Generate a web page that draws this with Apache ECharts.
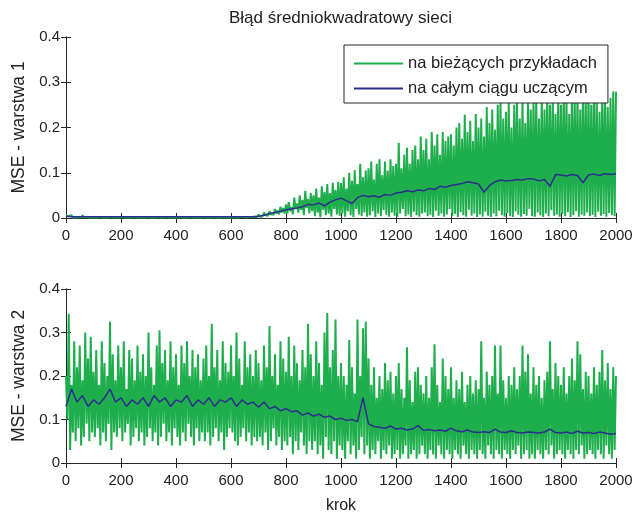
<!DOCTYPE html>
<html><head><meta charset="utf-8">
<script src="https://cdn.jsdelivr.net/npm/echarts@6/dist/echarts.min.js"></script>
<style>html,body{margin:0;padding:0;background:#fff}#c{width:637px;height:515px}</style>
</head><body><div id="c"></div>
<script>
const titleText = 'Błąd średniokwadratowy sieci';
const seriesNames = ['na bieżących przykładach', 'na całym ciągu uczącym'];
const yNames = ['MSE - warstwa 1', 'MSE - warstwa 2'];
const xName = 'krok';
const xTicks = [0, 200, 400, 600, 800, 1000, 1200, 1400, 1600, 1800, 2000];
const yTicks = [0, 0.1, 0.2, 0.3, 0.4];

// layer 1, current examples: local peaks (step 10*i) and troughs (step 10*i+5)
const topGreenHigh = [
0.005,0.004,0.006,0.003,0.005,0.004,0.006,0.003,0.004,0.003,
0.003,0.004,0.003,0.003,0.005,0.003,0.003,0.004,0.003,0.003,
0.003,0.003,0.004,0.003,0.003,0.003,0.004,0.003,0.003,0.003,
0.003,0.004,0.003,0.003,0.003,0.003,0.003,0.004,0.003,0.003,
0.003,0.003,0.003,0.004,0.003,0.003,0.003,0.003,0.004,0.003,
0.003,0.003,0.004,0.003,0.003,0.003,0.003,0.003,0.003,0.004,
0.003,0.004,0.003,0.003,0.004,0.003,0.005,0.004,0.006,0.005,
0.008,0.006,0.012,0.010,0.015,0.011,0.020,0.016,0.025,0.022,
0.030,0.035,0.024,0.045,0.032,0.050,0.040,0.060,0.042,0.055,
0.050,0.065,0.045,0.070,0.058,0.075,0.055,0.078,0.062,0.080,
0.077,0.090,0.065,0.100,0.082,0.106,0.075,0.120,0.090,0.105,
0.110,0.125,0.085,0.120,0.130,0.095,0.125,0.105,0.130,0.115,
0.120,0.166,0.110,0.140,0.155,0.120,0.150,0.160,0.130,0.180,
0.150,0.175,0.130,0.190,0.160,0.185,0.140,0.190,0.170,0.180,
0.185,0.160,0.200,0.210,0.175,0.228,0.190,0.215,0.170,0.230,
0.200,0.220,0.180,0.245,0.210,0.240,0.195,0.250,0.254,0.220,
0.235,0.255,0.200,0.250,0.263,0.220,0.260,0.210,0.265,0.240,
0.262,0.270,0.220,0.275,0.240,0.280,0.250,0.272,0.230,0.278,
0.250,0.280,0.265,0.230,0.282,0.255,0.278,0.240,0.285,0.260,
0.280,0.250,0.285,0.260,0.235,0.280,0.270,0.245,0.265,0.280];
const topGreenLow = [
0.001,0.002,0.001,0.001,0.002,0.001,0.001,0.002,0.001,0.001,
0.001,0.001,0.002,0.001,0.001,0.001,0.002,0.001,0.001,0.001,
0.002,0.001,0.001,0.001,0.002,0.001,0.001,0.001,0.001,0.002,
0.001,0.001,0.001,0.002,0.001,0.001,0.002,0.001,0.001,0.001,
0.001,0.002,0.001,0.001,0.001,0.002,0.001,0.001,0.001,0.001,
0.002,0.001,0.001,0.002,0.001,0.001,0.001,0.002,0.001,0.001,
0.001,0.002,0.001,0.002,0.002,0.001,0.002,0.002,0.003,0.002,
0.003,0.004,0.006,0.005,0.008,0.007,0.010,0.008,0.012,0.010,
0.010,0.015,0.008,0.020,0.012,0.018,0.006,0.022,0.010,0.015,
0.004,0.012,0.002,0.018,0.006,0.010,0.003,0.020,0.008,0.005,
0.010,0.003,0.015,0.006,0.002,0.020,0.008,0.004,0.012,0.003,
0.006,0.015,0.002,0.010,0.004,0.018,0.007,0.003,0.012,0.005,
0.003,0.010,0.020,0.004,0.008,0.002,0.014,0.006,0.003,0.010,
0.012,0.004,0.007,0.002,0.016,0.005,0.010,0.003,0.008,0.020,
0.004,0.009,0.002,0.013,0.006,0.003,0.018,0.005,0.010,0.002,
0.008,0.003,0.014,0.005,0.002,0.010,0.004,0.016,0.006,0.003,
0.011,0.004,0.002,0.015,0.007,0.003,0.009,0.005,0.020,0.004,
0.003,0.012,0.006,0.002,0.010,0.004,0.017,0.005,0.008,0.003,
0.009,0.004,0.013,0.002,0.006,0.015,0.003,0.008,0.005,0.012,
0.004,0.007,0.002,0.014,0.005,0.009,0.003,0.011,0.006,0.004];
const topGreenEnd = 0.279;

// layer 1, whole training set (every 20 steps)
const topBlue = [
0.004,0.003,0.003,0.003,0.003,0.003,0.003,0.003,0.003,0.003,
0.003,0.003,0.003,0.003,0.003,0.003,0.003,0.003,0.003,0.003,
0.003,0.003,0.003,0.003,0.003,0.003,0.003,0.003,0.003,0.003,
0.003,0.003,0.003,0.003,0.003,0.004,0.006,0.010,0.012,0.015,
0.018,0.020,0.022,0.025,0.030,0.029,0.033,0.027,0.035,0.040,
0.044,0.038,0.032,0.045,0.050,0.047,0.049,0.046,0.052,0.050,
0.055,0.057,0.060,0.058,0.062,0.060,0.065,0.063,0.070,0.068,
0.072,0.074,0.076,0.080,0.078,0.075,0.057,0.072,0.080,0.084,
0.082,0.083,0.085,0.084,0.087,0.086,0.082,0.085,0.070,0.096,
0.095,0.093,0.096,0.094,0.078,0.095,0.097,0.094,0.098,0.096,
0.098];

// layer 2, current examples
const botGreenHigh = [
0.200,0.343,0.180,0.280,0.220,0.270,0.190,0.300,0.240,0.290,
0.210,0.260,0.180,0.280,0.230,0.200,0.325,0.250,0.190,0.270,
0.220,0.280,0.170,0.260,0.240,0.190,0.270,0.210,0.250,0.200,
0.300,0.220,0.180,0.270,0.305,0.230,0.260,0.190,0.280,0.220,
0.250,0.180,0.270,0.230,0.280,0.200,0.260,0.220,0.250,0.190,
0.240,0.270,0.200,0.320,0.220,0.260,0.190,0.280,0.230,0.210,
0.270,0.200,0.300,0.240,0.180,0.280,0.220,0.250,0.200,0.260,
0.230,0.190,0.270,0.220,0.315,0.200,0.250,0.180,0.280,0.240,
0.210,0.290,0.200,0.270,0.230,0.190,0.260,0.220,0.320,0.250,
0.200,0.280,0.230,0.180,0.300,0.345,0.220,0.260,0.330,0.200,
0.230,0.200,0.180,0.283,0.220,0.160,0.330,0.200,0.310,0.325,
0.240,0.180,0.220,0.150,0.200,0.170,0.230,0.190,0.210,0.160,
0.200,0.230,0.170,0.150,0.266,0.190,0.140,0.210,0.220,0.180,
0.160,0.200,0.150,0.220,0.273,0.180,0.140,0.240,0.200,0.170,
0.220,0.150,0.190,0.170,0.210,0.140,0.180,0.200,0.160,0.190,
0.170,0.280,0.150,0.210,0.180,0.200,0.270,0.160,0.270,0.190,
0.150,0.200,0.180,0.220,0.170,0.200,0.270,0.210,0.250,0.160,
0.220,0.180,0.200,0.150,0.190,0.210,0.280,0.170,0.230,0.200,
0.180,0.220,0.160,0.200,0.240,0.190,0.280,0.250,0.170,0.210,
0.200,0.160,0.220,0.180,0.210,0.260,0.190,0.230,0.170,0.220];
const botGreenLow = [
0.100,0.030,0.070,0.050,0.080,0.040,0.060,0.090,0.050,0.070,
0.060,0.080,0.040,0.070,0.050,0.090,0.030,0.070,0.060,0.080,
0.050,0.070,0.090,0.040,0.060,0.080,0.050,0.070,0.040,0.060,
0.080,0.050,0.070,0.040,0.060,0.090,0.050,0.070,0.040,0.080,
0.060,0.040,0.070,0.050,0.090,0.060,0.040,0.080,0.050,0.070,
0.050,0.070,0.040,0.060,0.080,0.050,0.070,0.030,0.060,0.080,
0.070,0.050,0.040,0.060,0.080,0.050,0.070,0.040,0.060,0.050,
0.060,0.040,0.070,0.030,0.050,0.080,0.040,0.060,0.030,0.050,
0.040,0.060,0.020,0.050,0.030,0.070,0.040,0.020,0.050,0.030,
0.050,0.020,0.040,0.010,0.060,0.030,0.020,0.050,0.010,0.040,
0.030,0.010,0.050,0.020,0.040,0.010,0.030,0.060,0.020,0.040,
0.010,0.030,0.020,0.050,0.010,0.030,0.020,0.040,0.010,0.020,
0.030,0.010,0.020,0.040,0.010,0.020,0.030,0.010,0.020,0.040,
0.020,0.010,0.030,0.020,0.010,0.040,0.020,0.010,0.030,0.020,
0.010,0.030,0.020,0.010,0.040,0.020,0.010,0.030,0.020,0.010,
0.030,0.020,0.010,0.040,0.020,0.010,0.030,0.020,0.010,0.030,
0.020,0.010,0.030,0.020,0.040,0.010,0.020,0.030,0.010,0.020,
0.010,0.030,0.020,0.010,0.030,0.020,0.040,0.010,0.020,0.030,
0.020,0.010,0.030,0.020,0.010,0.030,0.020,0.040,0.010,0.020,
0.030,0.020,0.010,0.030,0.020,0.010,0.040,0.020,0.010,0.030];
const botGreenEnd = 0.200;

// layer 2, whole training set (every 20 steps)
const botBlue = [
0.130,0.170,0.140,0.155,0.130,0.145,0.135,0.150,0.170,0.140,
0.150,0.130,0.145,0.135,0.150,0.130,0.155,0.140,0.150,0.130,
0.145,0.140,0.155,0.130,0.145,0.135,0.150,0.130,0.145,0.140,
0.150,0.130,0.145,0.135,0.140,0.128,0.140,0.125,0.130,0.120,
0.125,0.118,0.120,0.110,0.115,0.108,0.112,0.105,0.108,0.100,
0.103,0.098,0.100,0.095,0.150,0.090,0.084,0.082,0.080,0.085,
0.078,0.080,0.076,0.078,0.086,0.075,0.077,0.074,0.076,0.073,
0.080,0.074,0.072,0.076,0.071,0.070,0.072,0.070,0.078,0.071,
0.070,0.074,0.070,0.069,0.071,0.070,0.069,0.071,0.078,0.070,
0.069,0.071,0.068,0.073,0.069,0.070,0.068,0.071,0.069,0.066,
0.068];

const GREEN = '#1fae4c', BLUE = '#2b2e8e', AX = '#262626';
const FONT = "'Liberation Sans', Arial, sans-serif";

function zig(high, low, endVal) {
  const d = [];
  for (let i = 0; i < high.length; i++) { d.push([i * 10, high[i]]); d.push([i * 10 + 5, low[i]]); }
  d.push([2000, endVal]);
  return d;
}
function every20(arr) { return arr.map((v, i) => [i * 20, v]); }

const grids = [
  { left: 66, right: 21, top: 37, height: 181 },
  { left: 66, right: 21, top: 289, height: 182 }
];
const xAxes = [], yAxes = [];
[0, 1].forEach(g => {
  const common = { type: 'value', min: xTicks[0], max: xTicks[xTicks.length - 1], interval: 200, gridIndex: g,
    axisLine: { lineStyle: { color: AX, width: 1 } }, axisTick: { inside: true, length: 5, lineStyle: { color: AX } },
    splitLine: { show: false } };
  xAxes.push(Object.assign({}, common, { position: 'bottom',
    axisLabel: { fontSize: 15, color: '#222', fontFamily: FONT, margin: 10, formatter: v => String(v) },
    name: g === 1 ? xName : '', nameLocation: 'middle', nameGap: 35,
    nameTextStyle: { fontSize: 16, color: '#222', fontFamily: FONT } }));
  xAxes.push(Object.assign({}, common, { position: 'top', axisLabel: { show: false } }));
  const yc = { type: 'value', min: yTicks[0], max: yTicks[yTicks.length - 1], interval: 0.1, gridIndex: g,
    axisLine: { show: true, lineStyle: { color: AX, width: 1 } }, axisTick: { show: true, inside: true, length: 5, lineStyle: { color: AX } },
    splitLine: { show: false } };
  yAxes.push(Object.assign({}, yc, { position: 'left',
    axisLabel: { fontSize: 15, color: '#222', fontFamily: FONT, margin: 6 },
    name: yNames[g], nameLocation: 'middle', nameRotate: 90, nameGap: 27,
    nameTextStyle: { fontSize: 17.5, color: '#222', fontFamily: FONT } }));
  yAxes.push(Object.assign({}, yc, { position: 'right', axisLabel: { show: false } }));
});

const chart = echarts.init(document.getElementById('c'), null, { renderer: 'canvas' });
chart.setOption({
  animation: false,
  backgroundColor: '#fff',
  title: { text: titleText, left: 224, top: 5, textStyle: { fontSize: 17, fontWeight: 'normal', color: '#222', fontFamily: FONT } },
  legend: { show: true, orient: 'vertical', left: 344, top: 45, padding: [10, 11, 6, 10], itemGap: 8, itemWidth: 49, itemHeight: 2,
    icon: 'rect',
    backgroundColor: '#fff', borderColor: AX, borderWidth: 1, borderRadius: 0,
    textStyle: { fontSize: 16.5, color: '#222', fontFamily: FONT },
    data: seriesNames },
  grid: grids,
  xAxis: xAxes,
  yAxis: yAxes,
  series: [
    { name: seriesNames[0], type: 'line', xAxisIndex: 0, yAxisIndex: 0, data: zig(topGreenHigh, topGreenLow, topGreenEnd),
      symbol: 'none', lineStyle: { color: GREEN, width: 2 }, itemStyle: { color: GREEN }, z: 2 },
    { name: seriesNames[1], type: 'line', xAxisIndex: 0, yAxisIndex: 0, data: every20(topBlue),
      symbol: 'none', lineStyle: { color: BLUE, width: 1.5 }, itemStyle: { color: BLUE }, z: 3 },
    { name: seriesNames[0], type: 'line', xAxisIndex: 2, yAxisIndex: 2, data: zig(botGreenHigh, botGreenLow, botGreenEnd),
      symbol: 'none', lineStyle: { color: GREEN, width: 2 }, itemStyle: { color: GREEN }, z: 2 },
    { name: seriesNames[1], type: 'line', xAxisIndex: 2, yAxisIndex: 2, data: every20(botBlue),
      symbol: 'none', lineStyle: { color: BLUE, width: 1.5 }, itemStyle: { color: BLUE }, z: 3 }
  ]
});
</script></body></html>
